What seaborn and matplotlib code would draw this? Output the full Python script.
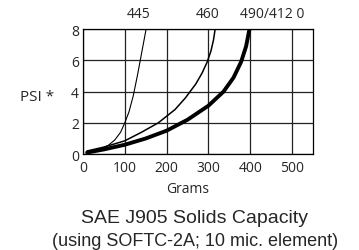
import pandas as pd
import matplotlib.pyplot as plt
import seaborn as sns

# curves (grams vs PSI)
x_445 = [20, 40, 60, 76, 90, 100, 110, 120, 130, 137, 144, 151]
y_445 = [0.15, 0.3, 0.55, 0.9, 1.4, 2.0, 2.7, 3.7, 5.0, 6.0, 7.0, 8.0]
x_460 = [10, 50, 100, 140, 180, 220, 245, 270, 285, 297, 306, 312, 316]
y_460 = [0.2, 0.45, 0.85, 1.4, 2.0, 2.85, 3.6, 4.5, 5.2, 5.9, 6.6, 7.3, 8.0]
x_490 = [10, 50, 100, 150, 200, 250, 300, 336, 360, 378, 390, 398]
y_490 = [0.1, 0.3, 0.6, 1.0, 1.5, 2.2, 3.1, 4.0, 4.9, 5.9, 6.9, 8.0]

top_labels = ['445', '460', '490/412 0']
top_label_x = [132, 298, 453]

sns.set_style("white")
plt.rcParams['font.family'] = ['Open Sans', 'DejaVu Sans']

fig = plt.figure(figsize=(3.59, 2.51), dpi=100)
ax = fig.add_axes([0.231, 0.382, 0.641, 0.498])

sns.lineplot(x=x_445, y=y_445, color='black', linewidth=0.8, ax=ax)
sns.lineplot(x=x_460, y=y_460, color='black', linewidth=1.1, ax=ax)
sns.lineplot(x=x_490, y=y_490, color='black', linewidth=2.8, ax=ax)

ax.set_xlim(0, 550)
ax.set_ylim(0, 8)
ax.set_xticks([0, 100, 200, 300, 400, 500])
ax.set_yticks([0, 2, 4, 6, 8])
ax.grid(True, color='#222222', linewidth=0.9)
for s in ax.spines.values():
    s.set_color('black')
    s.set_linewidth(0.9)
ax.tick_params(labelsize=10, length=0)
ax.tick_params(axis='x', pad=4)
ax.tick_params(axis='y', pad=3)
ax.set_xlabel('Grams', fontsize=10, va='center')
ax.xaxis.set_label_coords(250 / 550, -0.272)
ax.set_ylabel('PSI *', fontsize=11, rotation=0, va='center', ha='center')
ax.yaxis.set_label_coords(-0.198, 0.46)

for lab, xv in zip(top_labels, top_label_x):
    ax.text(xv, 9.0, lab, ha='center', va='center', fontsize=10)

fig.text(0.543, 0.110, 'SAE J905 Solids Capacity', ha='center', va='baseline',
         fontsize=14, family=['Liberation Sans'])
fig.text(0.543, 0.020, '(using SOFTC-2A; 10 mic. element)', ha='center', va='baseline',
         fontsize=13, family=['Liberation Sans'])

fig.savefig('out.png', dpi=100)
